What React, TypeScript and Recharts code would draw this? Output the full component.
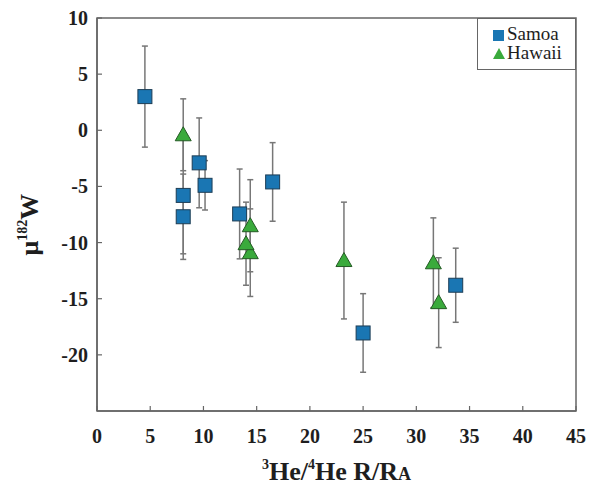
import React from "react";
import {
  ScatterChart,
  Scatter,
  XAxis,
  YAxis,
  ErrorBar,
  ReferenceArea,
  Label,
} from "recharts";

// valores
const samoaX = [4.5, 8.1, 8.1, 9.6, 10.15, 13.4, 16.5, 25.0, 33.7];
const samoaY = [3.0, -5.8, -7.7, -2.9, -4.9, -7.45, -4.6, -18.05, -13.8];
const samoaErr = [4.5, 5.2, 3.8, 4.0, 2.2, 4.0, 3.5, 3.5, 3.3];

const hawaiiX = [8.1, 14.4, 14.4, 14.0, 23.2, 31.6, 32.1];
const hawaiiY = [-0.4, -8.5, -10.9, -10.1, -11.6, -11.8, -15.35];
const hawaiiErr = [3.2, 4.1, 3.9, 3.7, 5.2, 4.0, 4.0];

const xTicks = [0, 5, 10, 15, 20, 25, 30, 35, 40, 45];
const yTicks = [10, 5, 0, -5, -10, -15, -20];

const seriesNames = ["Samoa", "Hawaii"];

const samoa = samoaX.map((x, i) => ({ x, y: samoaY[i], err: samoaErr[i] }));
const hawaii = hawaiiX.map((x, i) => ({ x, y: hawaiiY[i], err: hawaiiErr[i] }));

const AXIS = "#666";
const TEXT = "#1e1e1e";
const SERIF = "Liberation Serif, Times New Roman, Tinos, DejaVu Serif, Noto Serif, serif";
const BLUE = "#1a76b3";
const BLUE_EDGE = "#1d3d55";
const GREEN = "#3aaa3c";
const GREEN_EDGE = "#245a24";

const XTick = (props: any) => {
  const { x, y, payload } = props;
  return (
    <g>
      <line x1={x} x2={x} y1={y} y2={y - 5} stroke={AXIS} strokeWidth={1.2} />
      <text
        x={x}
        y={y + 32}
        textAnchor="middle"
        fontSize={20}
        fontWeight="bold"
        style={{ fontFamily: SERIF }}
        fill={TEXT}
      >
        {payload.value}
      </text>
    </g>
  );
};

const YTick = (props: any) => {
  const { x, y, payload } = props;
  return (
    <g>
      <line x1={x} x2={x + 5} y1={y} y2={y} stroke={AXIS} strokeWidth={1.2} />
      <text
        x={x - 9}
        y={y + 7}
        textAnchor="end"
        fontSize={20}
        fontWeight="bold"
        style={{ fontFamily: SERIF }}
        fill={TEXT}
      >
        {payload.value}
      </text>
    </g>
  );
};

const SquareDot = (props: any) => {
  const { cx, cy } = props;
  return (
    <rect
      x={cx - 7}
      y={cy - 7}
      width={14}
      height={14}
      fill={BLUE}
      stroke={BLUE_EDGE}
      strokeWidth={1}
    />
  );
};

const TriangleDot = (props: any) => {
  const { cx, cy } = props;
  const pts = `${cx},${cy - 8} ${cx + 8},${cy + 6} ${cx - 8},${cy + 6}`;
  return <polygon points={pts} fill={GREEN} stroke={GREEN_EDGE} strokeWidth={1} />;
};

const XTitle = (props: any) => {
  const { viewBox } = props;
  const cx = viewBox.x + viewBox.width / 2;
  return (
    <text
      x={cx}
      y={viewBox.y + 69}
      textAnchor="middle"
      fontSize={26}
      fontWeight="bold"
      style={{ fontFamily: SERIF }}
      fill={TEXT}
    >
      <tspan fontSize={14} dy={-11}>3</tspan>
      <tspan dy={11}>He/</tspan>
      <tspan fontSize={14} dy={-11}>4</tspan>
      <tspan dy={11}>He R/R</tspan>
      <tspan fontSize={18}>A</tspan>
    </text>
  );
};

const YTitle = (props: any) => {
  const { viewBox } = props;
  const cy = viewBox.y + viewBox.height / 2 + 10;
  const x = 38;
  return (
    <text
      x={x}
      y={cy}
      transform={`rotate(-90, ${x}, ${cy})`}
      textAnchor="middle"
      fontSize={26}
      fontWeight="bold"
      style={{ fontFamily: SERIF }}
      fill={TEXT}
    >
      μ
      <tspan fontSize={14} dy={-11}>182</tspan>
      <tspan dy={11}>W</tspan>
    </text>
  );
};

function LegendBox() {
  return (
    <div
      style={{
        position: "absolute",
        left: 477,
        top: 18,
        width: 99,
        height: 52,
        border: `1.5px solid ${AXIS}`,
        background: "#fff",
        fontFamily: SERIF,
        fontSize: 19,
        color: TEXT,
        boxSizing: "border-box",
      }}
    >
      <div style={{ position: "absolute", left: 15, top: 11, width: 11, height: 11, background: BLUE }} />
      <div style={{ position: "absolute", left: 29, top: 5, lineHeight: "20px" }}>{seriesNames[0]}</div>
      <svg style={{ position: "absolute", left: 14, top: 28 }} width={14} height={14}>
        <polygon points="7,1 13,12 1,12" fill={GREEN} />
      </svg>
      <div style={{ position: "absolute", left: 29, top: 24, lineHeight: "20px" }}>{seriesNames[1]}</div>
    </div>
  );
}

export default function App() {
  return (
    <div style={{ position: "absolute", left: 0, top: 0, width: 592, height: 492, background: "#fff" }}>
      <ScatterChart
        width={592}
        height={492}
        margin={{ top: 18, right: 16, bottom: 0, left: 0 }}
      >
        <XAxis
          type="number"
          dataKey="x"
          domain={[0, 45]}
          ticks={xTicks}
          height={81}
          tickSize={0}
          tickMargin={0}
          tickLine={false}
          axisLine={{ stroke: AXIS, strokeWidth: 1.5 }}
          tick={<XTick />}
          interval={0}
        >
          <Label content={<XTitle />} />
        </XAxis>
        <YAxis
          type="number"
          dataKey="y"
          domain={[-25, 10]}
          ticks={yTicks}
          width={97}
          tickSize={0}
          tickMargin={0}
          tickLine={false}
          axisLine={{ stroke: AXIS, strokeWidth: 1.5 }}
          tick={<YTick />}
          interval={0}
        >
          <Label content={<YTitle />} />
        </YAxis>
        <ReferenceArea
          x1={0}
          x2={45}
          y1={-25}
          y2={10}
          fill="none"
          stroke={AXIS}
          strokeWidth={1.5}
        />
        <Scatter
          name={seriesNames[0]}
          data={samoa}
          shape={<SquareDot />}
          isAnimationActive={false}
        >
          <ErrorBar dataKey="err" direction="y" width={3} stroke="#777" strokeWidth={1.5} />
        </Scatter>
        <Scatter
          name={seriesNames[1]}
          data={hawaii}
          shape={<TriangleDot />}
          isAnimationActive={false}
        >
          <ErrorBar dataKey="err" direction="y" width={3} stroke="#777" strokeWidth={1.5} />
        </Scatter>
      </ScatterChart>
      <LegendBox />
    </div>
  );
}
